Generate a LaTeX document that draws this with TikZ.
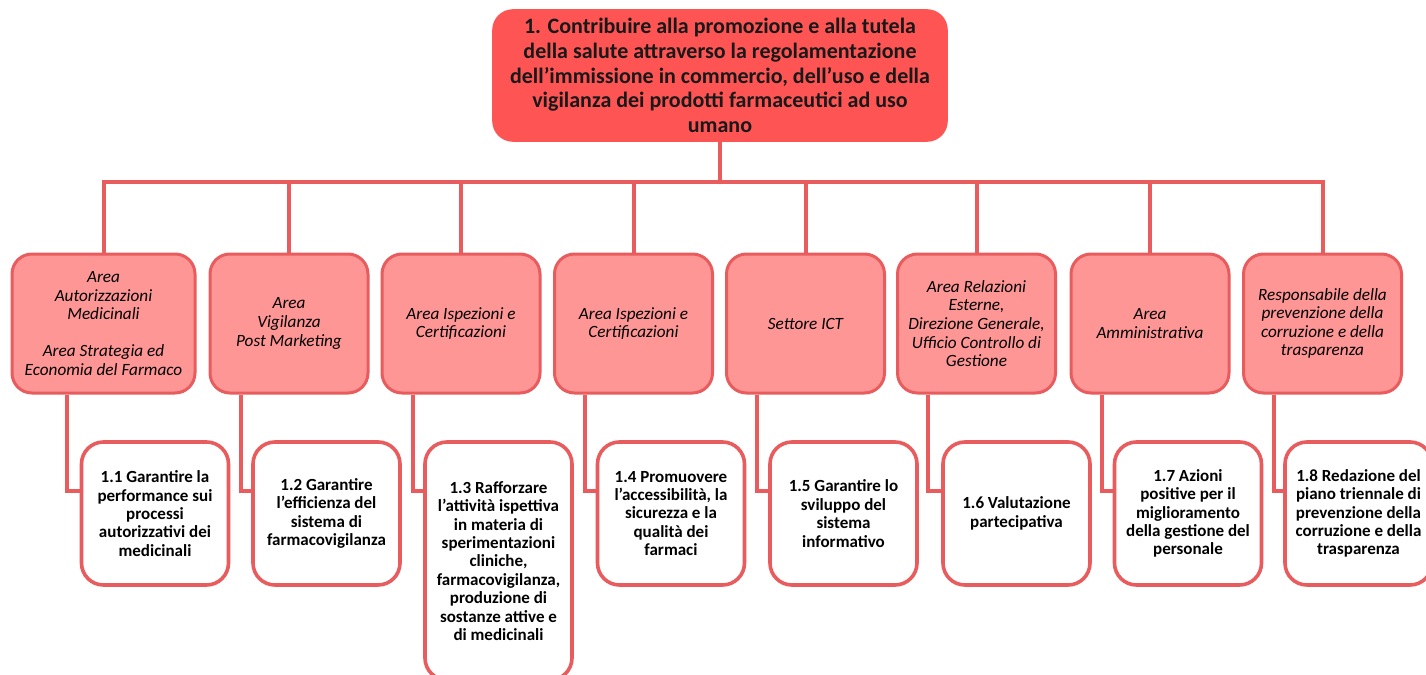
\documentclass[tikz,border=0pt]{standalone}
\usepackage{fontspec}
\setmainfont{Carlito}
\usetikzlibrary{arrows}

\begin{document}
\begin{tikzpicture}[x=0.5pt,y=-0.5pt]

\definecolor{goalred}{RGB}{255, 84, 84}
\definecolor{areapink}{RGB}{255, 150, 150}
\definecolor{linered}{RGB}{232, 92, 94}

% Fill background
\clip (0,0) rectangle (1426,675);
\fill[white] (0,0) rectangle (1426,675);

\tikzset{
    goal box/.style={
        draw=goalred, thick, fill=goalred,
        rectangle, rounded corners=10pt,
        minimum width=227pt, minimum height=65.5pt,
        text=black!90, font=\bfseries\fontsize{11}{12.3}\selectfont, align=center
    },
    area box/.style={
        draw=linered, line width=1.5pt, fill=areapink,
        rectangle, rounded corners=10pt,
        minimum width=#1, minimum height=69.5pt, inner sep=1pt,
        text=black, font=\itshape\fontsize{8.6}{9.3}\selectfont, align=center
    },
    area box/.default=79pt,
    target box/.style={
        draw=linered, line width=1.8pt, fill=white,
        rectangle, rounded corners=11pt,
        minimum width=73.5pt, minimum height=#1, inner sep=1pt,
        text=black, font=\bfseries\fontsize{8.5}{9.2}\selectfont, align=center
    },
    target box/.default=71.5pt,
    link/.style={
        draw=linered, line width=2pt
    }
}

% GOAL
\node[goal box] (goal) at (720, 75.5) {1. Contribuire alla promozione e alla tutela\\della salute attraverso la regolamentazione\\dell’immissione in commercio, dell’uso e della\\vigilanza dei prodotti farmaceutici ad uso\\umano};

% --- AREAS ---
\node[area box=91.5pt] (a1) at (103.5, 323.5) {Area\\Autorizzazioni\\Medicinali\\[9.3pt]Area Strategia ed\\Economia del Farmaco};
\node[area box] (a2) at (289, 323.5) {Area\\Vigilanza\\Post Marketing};
\node[area box] (a3) at (461, 323.5) {Area Ispezioni e\\Certificazioni};
\node[area box] (a4) at (633.5, 323.5) {Area Ispezioni e\\Certificazioni};
\node[area box] (a5) at (805.5, 323.5) {Settore ICT};
\node[area box] (a6) at (976.5, 323.5) {Area Relazioni\\Esterne,\\Direzione Generale,\\Ufficio Controllo di\\Gestione};
\node[area box] (a7) at (1150, 323.5) {Area\\Amministrativa};
\node[area box] (a8) at (1322.5, 323.5) {Responsabile della\\prevenzione della\\corruzione e della\\trasparenza};

% --- STRATEGIC TARGETS ---
\node[target box] (c1) at (155, 513.5) {1.1 Garantire la\\performance sui\\processi\\autorizzativi dei\\medicinali};
\node[target box] (c2) at (326.5, 513.5) {1.2 Garantire\\l'efficienza del\\sistema di\\farmacovigilanza};
\node[target box=119pt] (c3) at (498.5, 561) {1.3 Rafforzare\\l’attività ispettiva\\in materia di\\sperimentazioni\\cliniche,\\farmacovigilanza,\\produzione di\\sostanze attive e\\di medicinali};
\node[target box] (c4) at (671, 513.5) {1.4 Promuovere\\l’accessibilità, la\\sicurezza e la\\qualità dei\\farmaci};
\node[target box] (c5) at (843.5, 513.5) {1.5 Garantire lo\\sviluppo del\\sistema\\informativo};
\node[target box] (c6) at (1016.5, 513.5) {1.6 Valutazione\\partecipativa};
\node[target box] (c7) at (1188, 513.5) {1.7 Azioni\\positive per il\\miglioramento\\della gestione del\\personale};
\node[target box] (c8) at (1358.5, 513.5) {1.8 Redazione del\\piano triennale di\\prevenzione della\\corruzione e della\\trasparenza};

% --- GOAL TO AREAS ---
\draw[link] (goal.south) -- ++(0,40) -| (a1.north);
\draw[link] (goal.south) -- ++(0,40) -| (a2.north);
\draw[link] (goal.south) -- ++(0,40) -| (a3.north);
\draw[link] (goal.south) -- ++(0,40) -| (a4.north);
\draw[link] (goal.south) -- ++(0,40) -| (a5.north);
\draw[link] (goal.south) -- ++(0,40) -| (a6.north);
\draw[link] (goal.south) -- ++(0,40) -| (a7.north);
\draw[link] (goal.south) -- ++(0,40) -| (a8.north);

% --- AREAS TO TARGETS ---
\draw[link] ([xshift=28pt]a1.south west) |- ([yshift=-25.5pt]c1.north west);
\draw[link] ([xshift=16pt]a2.south west) |- ([yshift=-25.5pt]c2.north west);
\draw[link] ([xshift=16pt]a3.south west) |- ([yshift=-25.5pt]c3.north west);
\draw[link] ([xshift=16pt]a4.south west) |- ([yshift=-25.5pt]c4.north west);
\draw[link] ([xshift=16pt]a5.south west) |- ([yshift=-25.5pt]c5.north west);
\draw[link] ([xshift=16pt]a6.south west) |- ([yshift=-25.5pt]c6.north west);
\draw[link] ([xshift=16pt]a7.south west) |- ([yshift=-25.5pt]c7.north west);
\draw[link] ([xshift=16pt]a8.south west) |- ([yshift=-25.5pt]c8.north west);

\end{tikzpicture}
\end{document}
